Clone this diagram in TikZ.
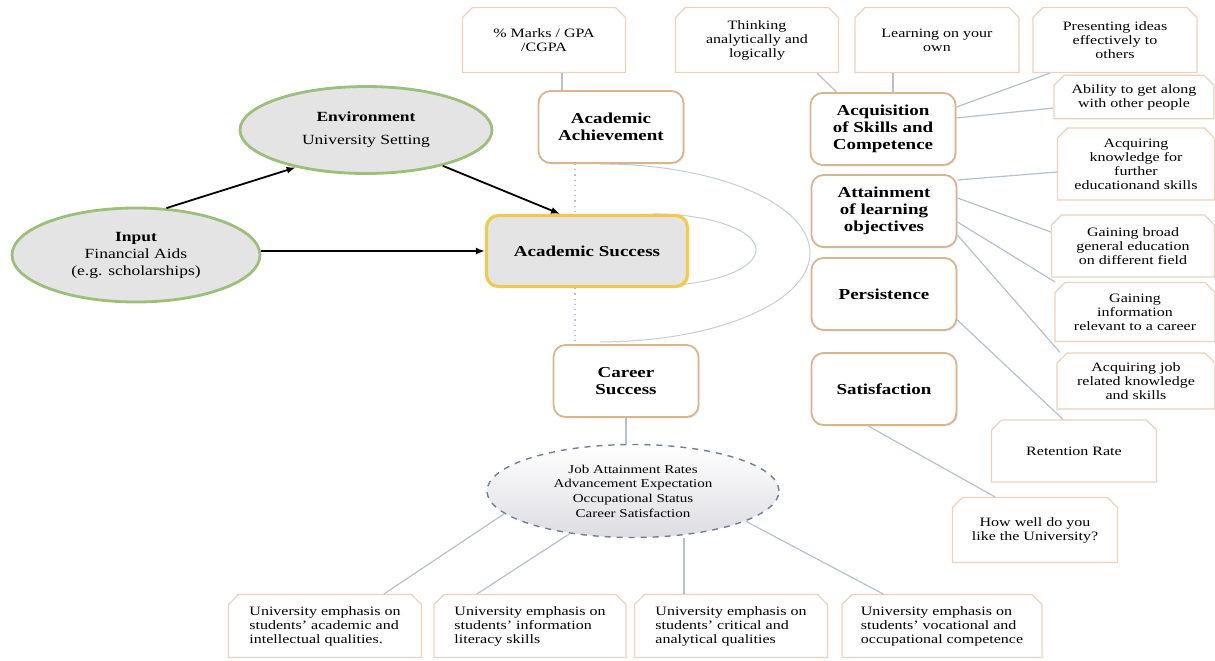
\documentclass[tikz,border=0pt]{standalone}
\usepackage{fontspec}
\setmainfont{Liberation Serif}[FakeStretch=1.25]
\usetikzlibrary{arrows.meta,shapes.geometric,shapes.misc,backgrounds,shadows}

\definecolor{connblue}{HTML}{B4C0CE}
\definecolor{leafpeach}{HTML}{EBD2BE}
\definecolor{boxtan}{HTML}{D9B48F}
\definecolor{gold}{HTML}{F2C94C}
\definecolor{ovalgreen}{HTML}{9CBF7A}
\definecolor{ovalgray}{HTML}{E4E4E4}
\definecolor{dashblue}{HTML}{6F7F96}

\begin{document}
\begin{tikzpicture}[x=0.5pt, y=-0.5pt,
    ovalnode/.style={ellipse, draw=ovalgreen, line width=1.4pt, fill=ovalgray, align=center,
        font=\fontsize{7}{8.5}\selectfont},
    mainbox/.style={draw=boxtan, line width=0.9pt, fill=white, rounded corners=6pt,
        minimum width=72.5pt, minimum height=36pt, align=center,
        font=\fontsize{7.6}{8.6}\selectfont\bfseries,
        drop shadow={shadow xshift=0.8pt, shadow yshift=-0.8pt, opacity=0.12}},
    keybox/.style={mainbox, draw=gold, line width=1.6pt, fill=ovalgray},
    leafbox/.style={chamfered rectangle, chamfered rectangle corners={north west,north east},
        chamfered rectangle xsep=2.5pt, chamfered rectangle ysep=2.5pt,
        draw=leafpeach, line width=0.6pt, fill=white, align=center, inner sep=2pt,
        font=\fontsize{6.4}{7}\selectfont},
    conn/.style={draw=connblue, line width=0.6pt},
    guide/.style={draw=connblue, line width=0.6pt, dotted},
    arcline/.style={draw=connblue!80, line width=0.5pt}]

\useasboundingbox (0,0) rectangle (1215,660);

% left part
\node[ovalnode, minimum width=124pt, minimum height=47pt] (input) at (136,255)
    {\textbf{Input}\\ Financial Aids\\ (e.g. scholarships)};
\node[ovalnode, minimum width=126pt, minimum height=43.5pt] (env) at (366,130)
    {\textbf{Environment}\\[3pt] University Setting};
\node[keybox, minimum width=100.5pt, minimum height=35.5pt] (acsucc) at (587,251) {Academic Success};

% middle column
\node[mainbox] (acach) at (611,127) {Academic\\ Achievement};
\node[mainbox] (career) at (626,381) {Career\\ Success};
\node[leafbox, minimum width=81.5pt, minimum height=32.5pt] (marks) at (544,40) {\% Marks / GPA\\ /CGPA};
\node[ellipse, draw=dashblue, dashed, line width=0.7pt, top color=white, bottom color=blue!8!gray!25,
    minimum width=146pt, minimum height=46.5pt, align=center, font=\fontsize{6}{7.3}\selectfont]
    (outcome) at (633,491)
    {Job Attainment Rates\\ Advancement Expectation\\ Occupational Status\\ Career Satisfaction};

% right column
\node[mainbox] (acq) at (883,129) {Acquisition\\ of Skills and\\ Competence};
\node[mainbox] (att) at (884,211) {Attainment\\ of learning\\ objectives};
\node[mainbox] (pers) at (884,294) {Persistence};
\node[mainbox] (satis) at (884,389) {Satisfaction};

\node[leafbox, minimum width=81.5pt, minimum height=32.5pt] (think) at (757,40) {Thinking\\ analytically and\\ logically};
\node[leafbox, minimum width=82pt, minimum height=32.5pt] (learn) at (937,40) {Learning on your\\ own};
\node[leafbox, minimum width=82pt, minimum height=32.5pt] (present) at (1115,40) {Presenting ideas\\ effectively to\\ others};
\node[leafbox, minimum width=80pt, minimum height=21pt] (ability) at (1134,97) {Ability to get along\\ with other people};
\node[leafbox, minimum width=78.5pt, minimum height=36pt] (knowfurther) at (1136,164) {Acquiring\\ knowledge for\\ further\\ educationand skills};
\node[leafbox, minimum width=81.5pt, minimum height=31pt] (broad) at (1133,246) {Gaining broad\\ general education\\ on different field};
\node[leafbox, minimum width=80pt, minimum height=29.5pt] (info) at (1135,312) {Gaining\\ information\\ relevant to a career};
\node[leafbox, minimum width=79pt, minimum height=28pt] (job) at (1136,381) {Acquiring job\\ related knowledge\\ and skills};
\node[leafbox, minimum width=82.5pt, minimum height=31pt] (retention) at (1074,451) {Retention Rate};
\node[leafbox, minimum width=82.5pt, minimum height=32.5pt] (howwell) at (1035,530) {How well do you\\ like the University?};

% bottom row
\node[leafbox, align=left, minimum width=96.5pt, minimum height=31.5pt] (b1) at (325,626)
    {University emphasis on\\ students' academic and\\ intellectual qualities.};
\node[leafbox, align=left, minimum width=96pt, minimum height=31.5pt] (b2) at (530,626)
    {University emphasis on\\ students' information\\ literacy skills};
\node[leafbox, align=left, minimum width=96.5pt, minimum height=31.5pt] (b3) at (731,626)
    {University emphasis on\\ students' critical and\\ analytical qualities};
\node[leafbox, align=left, minimum width=100pt, minimum height=31.5pt] (b4) at (942,626)
    {University emphasis on\\ students' vocational and\\ occupational competence};

% arcs and dotted guides behind the boxes
\begin{scope}[on background layer]
    \draw[guide] ([xshift=-18pt]acach.south) -- ([xshift=-18pt]acach.south |- acsucc.north);
    \draw[guide] ([xshift=-18pt]acach.south |- acsucc.south) -- ([xshift=-18pt]acach.south |- career.north);
    \draw[arcline] ([xshift=33pt]acsucc.north) arc[start angle=90, end angle=-90, x radius=51.5pt, y radius=18pt];
    \draw[arcline] ([xshift=-5.5pt]acach.south) arc[start angle=90, end angle=-90, x radius=105pt, y radius=44.5pt];
\end{scope}

% arrows
\draw[-{Latex[length=4.5pt,width=3.5pt]}, line width=0.9pt] (input.57) -- (env.208);
\draw[-{Latex[length=4.5pt,width=3.5pt]}, line width=0.9pt] (env.-25) -- ([xshift=-13.5pt]acsucc.north);
\draw[-{Latex[length=4.5pt,width=3.5pt]}, line width=0.9pt] (input.east |- acsucc.west) -- (acsucc.west);

% connectors
\draw[conn] ([xshift=9pt]marks.south) -- ([xshift=9pt]marks.south |- acach.north);
\draw[conn] ([xshift=30pt]think.south) -- ([xshift=13.5pt]acq.north west);
\draw[conn] ([xshift=-22pt]learn.south) -- ([xshift=-22pt]learn.south |- acq.north);
\draw[conn] ([xshift=-32.5pt]present.south) -- ([yshift=11pt]acq.east);
\draw[conn] ([yshift=-5.5pt]ability.west) -- ([yshift=5.5pt]acq.east);
\draw[conn] ([yshift=-4pt]knowfurther.west) -- ([yshift=15.5pt]att.east);
\draw[conn] ([yshift=6.5pt]att.east) -- ([yshift=7pt]broad.west);
\draw[conn] ([yshift=-5.5pt]att.east) -- ([xshift=-40pt]info.north);
\draw[conn] ([yshift=-12pt]att.east) -- ([xshift=-38pt]job.north);
\draw[conn] ([yshift=-13pt]pers.east) -- ([xshift=-5.5pt]retention.north);
\draw[conn] ([xshift=-8pt]satis.south) -- ([xshift=-20pt]howwell.north);
\draw[conn] (career.south) -- (career.south |- outcome.north);
\draw[conn] (outcome.190) -- ([xshift=29.5pt]b1.north);
\draw[conn] (outcome.214) -- ([xshift=-26.5pt]b2.north);
\draw[conn] ([xshift=-23.5pt]b3.north) -- ([xshift=-23.5pt]b3.north |- outcome.south);
\draw[conn] (outcome.-15) -- ([xshift=-29.5pt]b4.north);
\end{tikzpicture}
\end{document}
